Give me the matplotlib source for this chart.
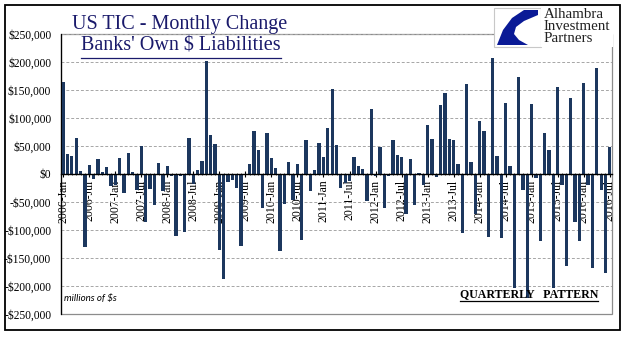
import matplotlib
matplotlib.use("Agg")
import matplotlib.pyplot as plt
import matplotlib.patches as patches
from matplotlib.lines import Line2D
from matplotlib.ticker import FuncFormatter, MultipleLocator
import numpy as np
import pandas as pd

# monthly change, in thousands of $ millions
change_k = [164, 36, 32, 64, 6, -130, 16, -9, 26, 3, 12, -22,
            -20, 28, -34, 37, 3, -28, 50, -85, -27, -55, 20, -30,
            14, -3, -110, -4, -104, 64, -17, 7, 23, 201, 69, 54,
            -135, -188, -14, -10, -25, -128, -2, 18, 76, 43, -60, 74,
            28, 10, -138, -53, 21, -46, 18, -118, 60, -30, 8, 55,
            30, 83, 151, 51, -25, -16, -12, 30, 14, 9, -48, 116,
            -3, 49, -60, -4, 60, 34, 31, -72, 26, -55, 1, -20,
            87, 62, -6, 123, 144, 62, 60, 18, -105, 160, 21, -71,
            94, 77, -113, 208, 32, -115, 126, 14, -204, 174, -29, -221,
            125, -8, -120, 73, 43, -204, 155, -19, -165, 135, -85, -120,
            163, -19, -167, 190, -28, -176, 49]
months = pd.date_range("2006-01-01", periods=len(change_k), freq="MS")
month_labels = [d.strftime("%Y-%b") for d in months]
values = np.array(change_k) * 1000

W, H = 641, 341
fig = plt.figure(figsize=(W / 100, H / 100), dpi=100)
fig.patch.set_facecolor("white")

def fx(px):
    return px / W

def fy(py):
    return 1 - py / H

# outer frame
fig.add_artist(patches.Rectangle((fx(5), fy(330)), fx(615), 325 / H,
                                 fill=False, edgecolor="black", lw=1.3,
                                 transform=fig.transFigure))

left, right, top, bottom = 61, 612, 34, 314
ax = fig.add_axes([fx(left), fy(bottom), fx(right - left), (bottom - top) / H])

x = np.arange(len(values))
ax.bar(x, values, width=0.76, color="#1c375e", zorder=3)

ax.set_xlim(-0.5, len(values) - 0.5)
ax.set_ylim(-250000, 250000)
ax.yaxis.set_major_locator(MultipleLocator(50000))
ax.yaxis.set_major_formatter(FuncFormatter(
    lambda v, p: ("-$" if v < 0 else "$") + f"{abs(int(v)):,}"))
ax.grid(axis="y", color="#a6a6a6", ls=(0, (3, 2)), lw=0.7, zorder=0)

for s in ["top", "right"]:
    ax.spines[s].set_visible(False)
ax.spines["left"].set_linewidth(0.9)
ax.spines["bottom"].set_position(("data", 0))
ax.spines["bottom"].set_linewidth(1.0)
ax.spines["bottom"].set_zorder(4)

# plot area border
ax.add_patch(patches.Rectangle((0, 0), 1, 1, transform=ax.transAxes,
                               fill=False, edgecolor="#8c8c8c", lw=0.9,
                               zorder=1, clip_on=False))

tick_pos = x[::6]
ax.set_xticks(tick_pos)
ax.set_xticklabels([month_labels[i] for i in tick_pos], rotation=90,
                   family="Liberation Serif", fontsize=8.5)
ax.set_xticks(x, minor=True)
ax.tick_params(axis="x", which="major", direction="inout", length=4,
               width=0.8, pad=2)
ax.tick_params(axis="x", which="minor", direction="inout", length=2,
               width=0.5)
ax.tick_params(axis="y", length=0, pad=7)
for t in ax.get_yticklabels():
    t.set_family("Liberation Serif")
    t.set_fontsize(8.3)

# title
navy = "#1a1a6b"
fig.text(fx(180), fy(24), "US TIC - Monthly Change", ha="center",
         va="center", family="Liberation Serif", fontsize=14.5, color=navy)
t2 = fig.text(fx(181), fy(46), "Banks' Own $ Liabilities", ha="center",
              va="center", family="Liberation Serif", fontsize=14.5,
              color=navy)

ax.text(0.006, 0.04, "millions of $s", transform=ax.transAxes,
        family="Lato", style="italic", fontsize=7, va="bottom", ha="left")
t3 = ax.text(0.975, 0.05, "QUARTERLY   PATTERN", transform=ax.transAxes,
             family="Liberation Serif", weight="bold", fontsize=8.6,
             va="bottom", ha="right")

# logo
fig.add_artist(patches.Rectangle((fx(494), fy(47)), fx(47), 39 / H,
                                 facecolor="white", edgecolor="#c8c8c8",
                                 lw=0.8, transform=fig.transFigure, zorder=5))
fig.add_artist(patches.Rectangle((fx(541), fy(47)), fx(72), 39 / H,
                                 facecolor="white", edgecolor="none",
                                 transform=fig.transFigure, zorder=5))
logo_x = [538, 524, 512, 503, 497, 528, 519, 514, 516, 524, 538]
logo_y = [10, 10, 18, 30, 45, 45, 40, 34, 27, 21, 15]
poly = patches.Polygon(np.column_stack([fx(np.array(logo_x)),
                                        fy(np.array(logo_y))]),
                       closed=True, facecolor="#0a1a96", edgecolor="none",
                       transform=fig.transFigure, zorder=6)
fig.add_artist(poly)
for i, word in enumerate(["Alhambra", "Investment", "Partners"]):
    fig.text(fx(544), fy(15 + 12 * i), word, ha="left", va="center",
             family="Liberation Serif", fontsize=10.8, color="#222222",
             zorder=7)

# underlines
fig.canvas.draw()
r = fig.canvas.get_renderer()
for t, off in [(t2, 2), (t3, 1)]:
    bb = t.get_window_extent(r)
    y0 = bb.y0 - off
    fig.add_artist(Line2D([bb.x0 / W, bb.x1 / W], [y0 / H, y0 / H],
                          color=t.get_color(), lw=0.9,
                          transform=fig.transFigure))

fig.savefig("out.png", dpi=100)
